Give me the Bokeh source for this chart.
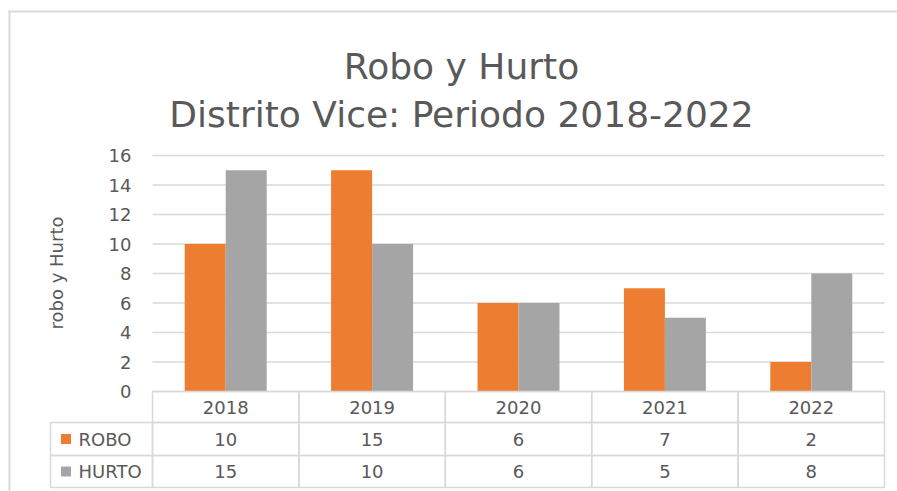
import math
from bokeh.plotting import figure
from bokeh.models import Range1d, ColumnDataSource
from bokeh.embed import file_html
from bokeh.resources import INLINE
from bokeh.core.properties import value

# ---------------- data ----------------
years = ["2018", "2019", "2020", "2021", "2022"]
robo = [10, 15, 6, 7, 2]
hurto = [15, 10, 6, 5, 8]
series_names = ["ROBO", "HURTO"]
series_colors = ["#ED7D31", "#A5A5A5"]
y_ticks = [0, 2, 4, 6, 8, 10, 12, 14, 16]
title_lines = ["Robo y Hurto", "Distrito Vice: Periodo 2018-2022"]
y_label = "robo y Hurto"

# ---------------- style / layout (pixels) ----------------
FONT = "DejaVu Sans"
TXT = "#595959"
GRID = "#D9D9D9"
W, H = 897, 491
PLOT_L, PLOT_R = 152, 884          # category band extent
ZERO_PX, PX_Y = 391, 14.75         # y=0 pixel row and px per unit
PX_X = (PLOT_R - PLOT_L) / len(years)
ROW_EDGES = [391, 422, 455, 487]   # table row borders
LEG_L = 50


def X(px):
    return -0.5 + (px - PLOT_L) / PX_X


def Y(py):
    return (ZERO_PX - py) / PX_Y


p = figure(width=W, height=H, x_range=Range1d(X(0), X(W)),
           y_range=Range1d(Y(H), Y(0)), output_backend="svg",
           toolbar_location=None, x_axis_location=None, y_axis_location=None,
           min_border=0)
p.xgrid.visible = False
p.ygrid.visible = False
p.outline_line_color = None
p.background_fill_color = "white"
p.border_fill_color = "white"

# chart border (left and top edges)
p.quad(left=[X(8), X(8)], right=[X(10), X(W)], top=[Y(10), Y(10)],
       bottom=[Y(H), Y(12)], fill_color=GRID, line_color=None)

# horizontal grid lines at the y ticks
p.segment(x0=[-0.5] * len(y_ticks), x1=[len(years) - 0.5] * len(y_ticks),
          y0=y_ticks, y1=y_ticks, line_color=GRID, line_width=1.5)

# bars
xs = list(range(len(years)))
bar_w = 0.28
off = bar_w / 2
src = ColumnDataSource(dict(x_robo=[i - off for i in xs],
                            x_hurto=[i + off for i in xs],
                            robo=robo, hurto=hurto))
p.vbar(x="x_robo", top="robo", bottom=0, width=bar_w, source=src,
       fill_color=series_colors[0], line_color=None)
p.vbar(x="x_hurto", top="hurto", bottom=0, width=bar_w, source=src,
       fill_color=series_colors[1], line_color=None)

# y tick labels
p.text(x=[X(PLOT_L - 21)] * len(y_ticks), y=y_ticks,
       text=[str(t) for t in y_ticks], text_align="right",
       text_baseline="middle", text_font=value(FONT),
       text_font_size="18px", text_color=TXT)

# y axis title
p.text(x=[X(56)], y=[Y(272.5)], text=[y_label], angle=math.pi / 2,
       text_align="center", text_baseline="middle", text_font=value(FONT),
       text_font_size="18px", text_color=TXT)

# chart title
p.text(x=[X(461)] * 2, y=[Y(66), Y(114)], text=title_lines,
       text_align="center", text_baseline="alphabetic",
       text_font=value(FONT), text_font_size="36px", text_color=TXT)

# data table cells
ry = [Y(e) for e in ROW_EDGES]
cl, cr, ct, cb = [], [], [], []
for r in range(3):
    for i in xs:
        cl.append(i - 0.5); cr.append(i + 0.5)
        ct.append(ry[r]); cb.append(ry[r + 1])
    if r > 0:
        cl.append(X(LEG_L)); cr.append(-0.5)
        ct.append(ry[r]); cb.append(ry[r + 1])
p.quad(left=cl, right=cr, top=ct, bottom=cb, fill_color=None,
       line_color=GRID, line_width=1.5)

rc = [(ry[r] + ry[r + 1]) / 2 for r in range(3)]
tx, ty, tt = [], [], []
for i, yv in enumerate(years):
    tx.append(i); ty.append(rc[0]); tt.append(yv)
for r, vals in enumerate([robo, hurto]):
    for i, v in enumerate(vals):
        tx.append(i); ty.append(rc[r + 1]); tt.append(str(v))
p.text(x=tx, y=ty, text=tt, text_align="center", text_baseline="middle",
       text_font=value(FONT), text_font_size="18px", text_color=TXT)

# legend keys inside the table
p.scatter(x=[X(65.5)] * 2, y=rc[1:], marker="square", size=10,
          fill_color=series_colors, line_color=None)
p.text(x=[X(78)] * 2, y=rc[1:], text=series_names, text_align="left",
       text_baseline="middle", text_font=value(FONT),
       text_font_size="18px", text_color=TXT)

open("out.html", "w").write(file_html(p, INLINE))
